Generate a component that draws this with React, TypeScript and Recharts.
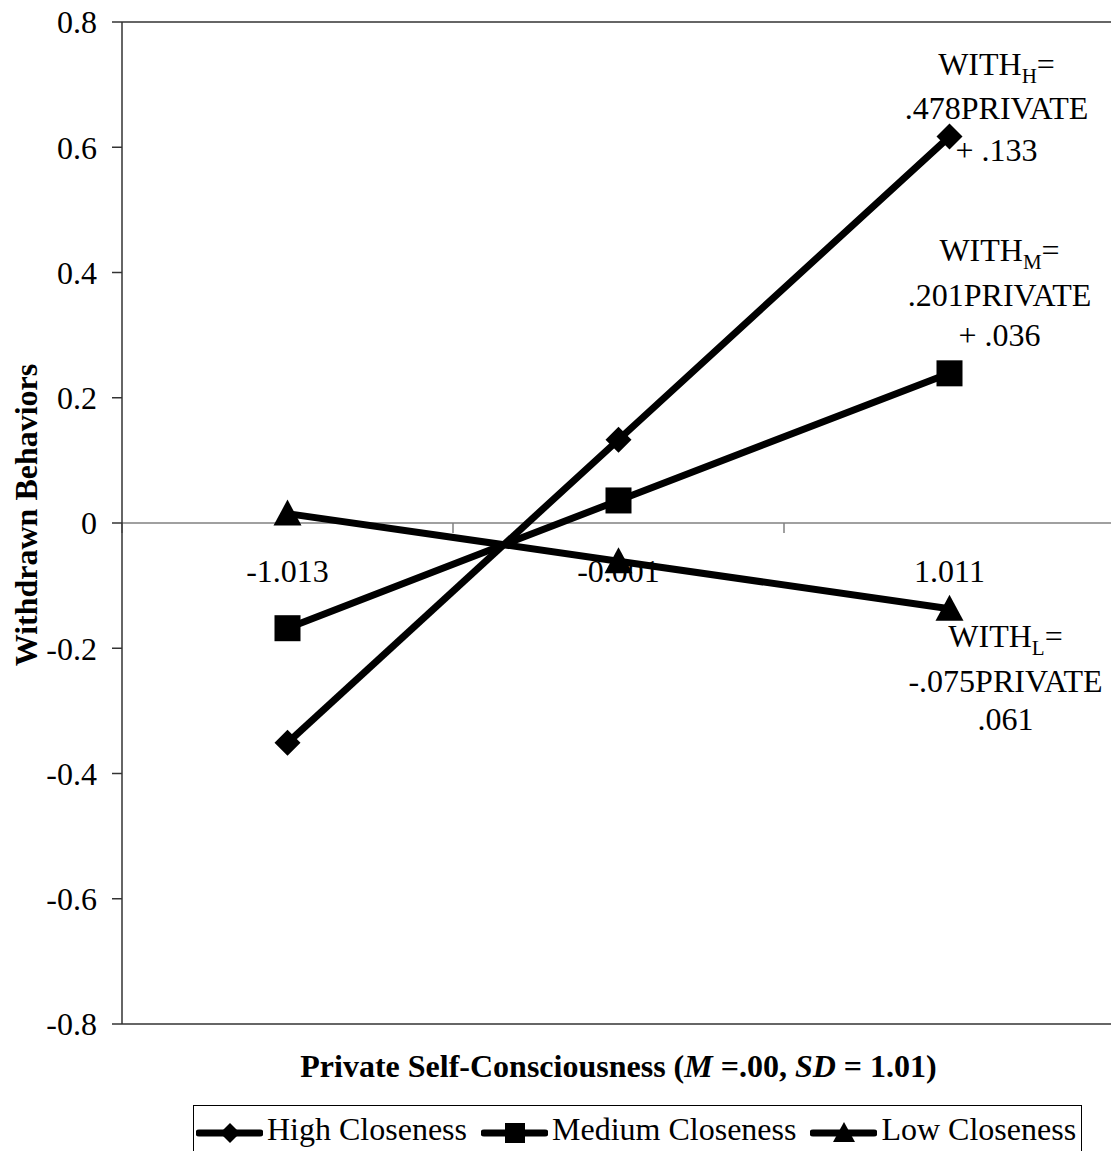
import React from "react";
import { LineChart, Line, XAxis, YAxis, ReferenceLine, Legend } from "recharts";

const categories = ["-1.013", "-0.001", "1.011"];
const highCloseness = [-0.351, 0.133, 0.617];
const mediumCloseness = [-0.168, 0.036, 0.239];
const lowCloseness = [0.015, -0.061, -0.137];
const yTicks = [-0.8, -0.6, -0.4, -0.2, 0, 0.2, 0.4, 0.6, 0.8];
const seriesNames = ["High Closeness", "Medium Closeness", "Low Closeness"];
const equationSubs = ["H", "M", "L"];
const equationSlopes = [".478PRIVATE", ".201PRIVATE", "-.075PRIVATE"];
const equationIntercepts = ["+ .133", "+ .036", ".061"];

const FONT = "'Liberation Serif', 'Times New Roman', serif";

const data = categories.map((label, i) => ({
  label,
  high: highCloseness[i],
  medium: mediumCloseness[i],
  low: lowCloseness[i],
}));

// where each equation sits relative to the last point of its line
const notePlacement = [
  { dx: 47, lines: [-62, -18, 24] },
  { dx: 50, lines: [-112, -67, -27] },
  { dx: 56, lines: [38, 83, 121] },
];

type Kind = "diamond" | "square" | "triangle";
const kinds: Kind[] = ["diamond", "square", "triangle"];

const Marker = ({ kind, cx, cy, s }: { kind: Kind; cx: number; cy: number; s: number }) => {
  if (kind === "diamond") {
    return <polygon points={`${cx},${cy - s} ${cx + s},${cy} ${cx},${cy + s} ${cx - s},${cy}`} fill="#000" />;
  }
  if (kind === "square") {
    return <rect x={cx - s} y={cy - s} width={s * 2} height={s * 2} fill="#000" />;
  }
  return <polygon points={`${cx},${cy - s - 1} ${cx + s + 1},${cy + s - 1} ${cx - s - 1},${cy + s - 1}`} fill="#000" />;
};

const makeDot = (i: number) => (props: any) => {
  const { cx, cy, index } = props;
  const last = index === categories.length - 1;
  const p = notePlacement[i];
  return (
    <g key={`dot-${i}-${index}`}>
      <Marker kind={kinds[i]} cx={cx} cy={cy} s={13} />
      {last && (
        <g fontFamily={FONT} fontSize={32} fill="#000" textAnchor="middle">
          <text x={cx + p.dx} y={cy + p.lines[0]}>
            WITH
            <tspan fontSize={21} dy={8}>{equationSubs[i]}</tspan>
            <tspan dy={-8}>=</tspan>
          </text>
          <text x={cx + p.dx} y={cy + p.lines[1]}>{equationSlopes[i]}</text>
          <text x={cx + p.dx} y={cy + p.lines[2]}>{equationIntercepts[i]}</text>
        </g>
      )}
    </g>
  );
};

// zero line acts as the category axis: tick marks at boundaries, labels under it
const ZeroAxis = (props: any) => {
  const vb = props.viewBox || {};
  const { x, y, width } = vb;
  if (x == null) return null;
  const step = width / categories.length;
  return (
    <g>
      {Array.from({ length: categories.length + 1 }).map((_, i) => (
        <line key={`t${i}`} x1={x + i * step} x2={x + i * step} y1={y} y2={y + 10} stroke="#808080" strokeWidth={1.5} />
      ))}
      {categories.map((c, i) => (
        <text key={c} x={x + (i + 0.5) * step} y={y + 59} textAnchor="middle" fontFamily={FONT} fontSize={32} fill="#000">
          {c}
        </text>
      ))}
    </g>
  );
};

const XTitle = (props: any) => {
  const { x, y, width } = props.viewBox;
  return (
    <text x={x + width / 2} y={y + 53} textAnchor="middle" fontFamily={FONT} fontSize={32} fontWeight="bold" fill="#000">
      Private Self-Consciousness (<tspan fontStyle="italic">M</tspan> =.00, <tspan fontStyle="italic">SD</tspan> = 1.01)
    </text>
  );
};

const YTitle = (props: any) => {
  const { x, y, height } = props.viewBox;
  const cx = x + 37;
  const cy = y + height / 2 - 8;
  return (
    <text x={cx} y={cy} transform={`rotate(-90, ${cx}, ${cy})`} textAnchor="middle" fontFamily={FONT} fontSize={32} fontWeight="bold" fill="#000">
      Withdrawn Behaviors
    </text>
  );
};

const LegendBox = () => (
  <div
    style={{
      border: "1px solid #000",
      borderBottom: "none",
      height: 60,
      boxSizing: "border-box",
      paddingTop: 5,
      paddingLeft: 2,
      display: "flex",
      alignItems: "flex-start",
      fontFamily: FONT,
      fontSize: 32,
      lineHeight: "36px",
      color: "#000",
      whiteSpace: "nowrap",
    }}
  >
    {seriesNames.map((name, i) => (
      <div key={name} style={{ display: "flex", alignItems: "center", marginRight: 14 }}>
        <svg width={67} height={36} style={{ display: "block" }}>
          <line x1={3} x2={64} y1={22} y2={22} stroke="#000" strokeWidth={7} strokeLinecap="round" />
          <Marker kind={kinds[i]} cx={34} cy={22} s={10} />
        </svg>
        <span style={{ marginLeft: 4 }}>{name}</span>
      </div>
    ))}
  </div>
);

export default function App() {
  return (
    <div
      style={{
        position: "absolute",
        left: 0,
        top: 0,
        width: 1111,
        height: 1151,
        overflow: "hidden",
        background: "#fff",
      }}
    >
      <LineChart width={1115} height={1151} data={data} margin={{ top: 22, right: 0, bottom: 0, left: 0 }}>
        <XAxis
          dataKey="label"
          scale="band"
          height={127}
          axisLine={false}
          tickLine={false}
          tick={false}
          label={<XTitle />}
        />
        <YAxis
          width={122}
          domain={[-0.8, 0.8]}
          ticks={yTicks}
          interval={0}
          allowDataOverflow
          tickFormatter={(v: number) => String(v)}
          tick={{ fontSize: 32, fill: "#000", fontFamily: FONT }}
          tickSize={10}
          tickMargin={15}
          stroke="#333"
          strokeWidth={1.5}
          label={<YTitle />}
        />
        <ReferenceLine y={0.8} stroke="#333" strokeWidth={1.5} />
        <ReferenceLine y={-0.8} stroke="#333" strokeWidth={1.5} />
        <ReferenceLine y={0} stroke="#808080" strokeWidth={1.5} label={<ZeroAxis />} />
        <Legend
          layout="horizontal"
          verticalAlign="middle"
          align="center"
          wrapperStyle={{ left: 193, top: 1105, width: 889 }}
          content={<LegendBox />}
        />
        <Line type="linear" dataKey="high" name={seriesNames[0]} stroke="#000" strokeWidth={7} dot={makeDot(0)} activeDot={false} isAnimationActive={false} />
        <Line type="linear" dataKey="medium" name={seriesNames[1]} stroke="#000" strokeWidth={7} dot={makeDot(1)} activeDot={false} isAnimationActive={false} />
        <Line type="linear" dataKey="low" name={seriesNames[2]} stroke="#000" strokeWidth={7} dot={makeDot(2)} activeDot={false} isAnimationActive={false} />
      </LineChart>
    </div>
  );
}
